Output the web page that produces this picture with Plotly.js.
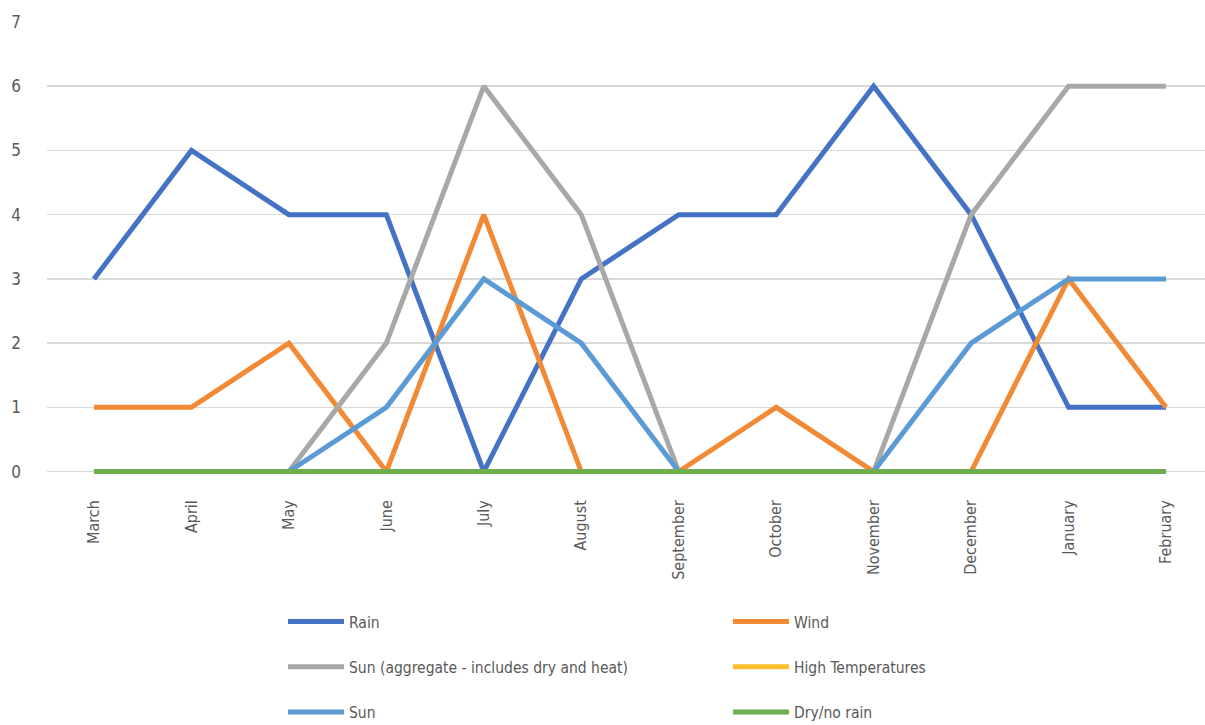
<!DOCTYPE html>
<html><head><meta charset="utf-8">
<script src="https://cdn.plot.ly/plotly-3.0.1.min.js"></script>
<style>body{margin:0;background:#fff}#c{width:1205px;height:725px}</style>
</head><body><div id="c"></div>
<script>
const months = ["March","April","May","June","July","August","September","October","November","December","January","February"];
const rain = [3,5,4,4,0,3,4,4,6,4,1,1];
const wind = [1,1,2,0,4,0,0,1,0,0,3,1];
const sunAggregate = [0,0,0,2,6,4,0,0,0,4,6,6];
const highTemperatures = [0,0,0,0,0,0,0,0,0,0,0,0];
const sun = [0,0,0,1,3,2,0,0,0,2,3,3];
const dryNoRain = [0,0,0,0,0,0,0,0,0,0,0,0];

const FONT = '"Liberation Sans Narrow", "DejaVu Sans Condensed", "Open Sans", sans-serif';
function tr(name, y, color, legend, grp){
  return {type:'scatter', mode:'lines', name:name, x:months, y:y,
    line:{color:color, width:5}, legend:legend, legendgroup:grp, hoverinfo:'skip'};
}
const data = [
  tr('Rain', rain, '#4472C4', 'legend', 'a'),
  tr('Wind', wind, '#F28A35', 'legend2', 'b'),
  tr('Sun (aggregate - includes dry and heat)', sunAggregate, '#A8A8A8', 'legend', 'c'),
  tr('High Temperatures', highTemperatures, '#FBBF2D', 'legend2', 'd'),
  tr('Sun', sun, '#5B9BD5', 'legend', 'e'),
  tr('Dry/no rain', dryNoRain, '#6DAF4E', 'legend2', 'f')
];
const legBase = {orientation:'v', xref:'container', yref:'container', xanchor:'left', yanchor:'top',
  traceorder:'grouped', tracegroupgap:22, itemwidth:56,
  font:{family:FONT, size:15.5, color:'#595959'}, bgcolor:'rgba(0,0,0,0)'};
const layout = {
  width:1205, height:725,
  margin:{l:47, r:0, t:22, b:247, autoexpand:false},
  paper_bgcolor:'#fff', plot_bgcolor:'#fff',
  font:{family:FONT, color:'#595959', size:16},
  xaxis:{type:'category', range:[-0.482, 11.40], showgrid:false, zeroline:false,
    showline:false, ticks:'', tickangle:-90, ticklabelstandoff:18, automargin:false,
    tickfont:{family:FONT, size:16, color:'#595959'}},
  yaxis:{range:[-0.1,7], dtick:1, tick0:0, showgrid:true, gridcolor:'#D9D9D9', gridwidth:1.5,
    zeroline:false, showline:false, ticks:'', ticklabelstandoff:25, automargin:false,
    tickfont:{family:FONT, size:17, color:'#595959'}},
  showlegend:true,
  legend:Object.assign({}, legBase, {x:283/1205, y:1-605/725}),
  legend2:Object.assign({}, legBase, {x:728/1205, y:1-605/725})
};
Plotly.newPlot('c', data, layout, {displayModeBar:false, staticPlot:true});
</script></body></html>
